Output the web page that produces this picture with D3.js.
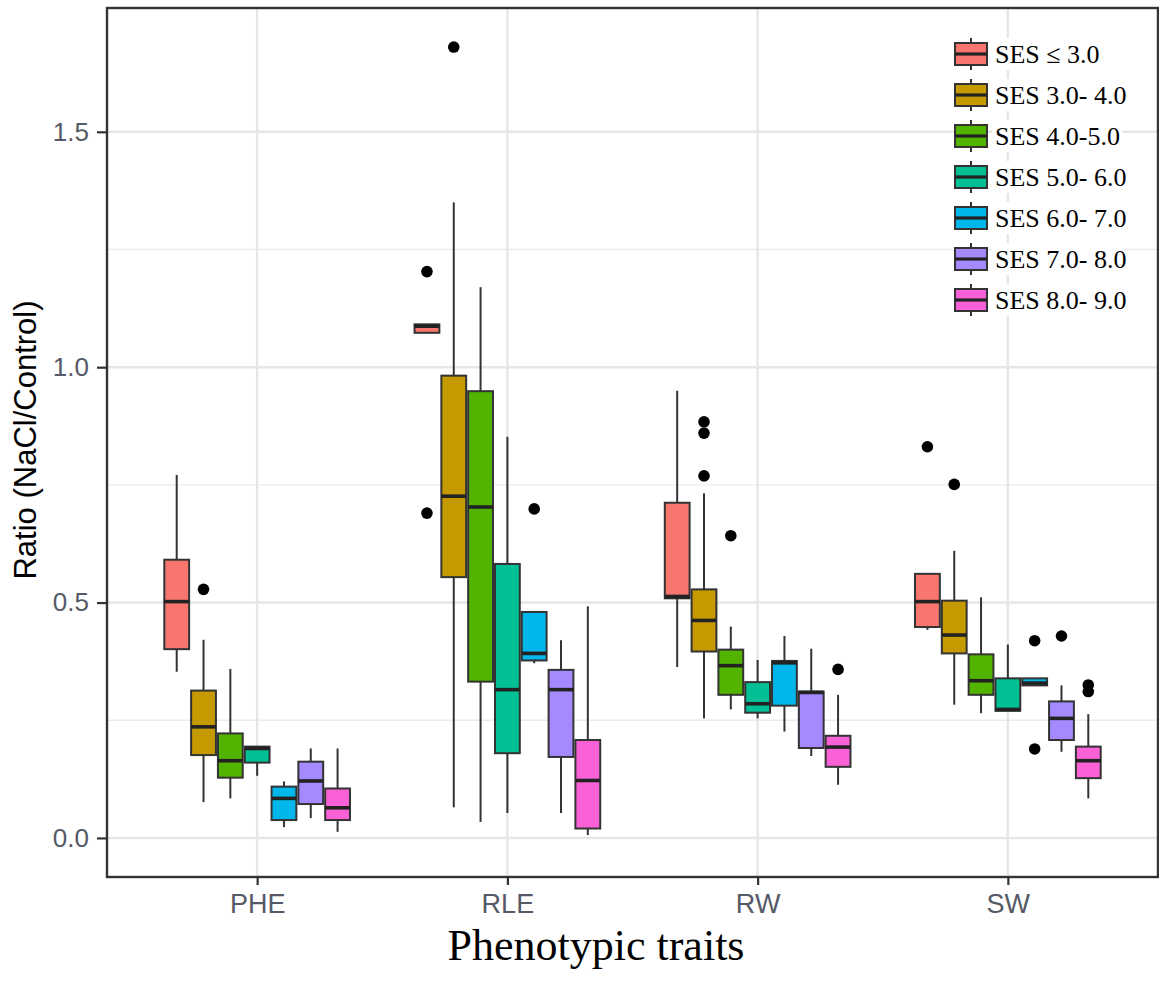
<!DOCTYPE html>
<html>
<head>
<meta charset="utf-8">
<script src="https://cdn.jsdelivr.net/npm/d3@7"></script>
<style>
  html, body { margin: 0; padding: 0; background: #fff; }
  svg { display: block; }
</style>
</head>
<body>
<svg id="chart" width="1159" height="995"></svg>
<script>
// Salt-stress ratio (NaCl/Control) per phenotypic trait, split by SES score class.
const traits = ["PHE", "RLE", "RW", "SW"];
const sesGroups = ["SES \u2264 3.0", "SES 3.0- 4.0", "SES 4.0-5.0", "SES 5.0- 6.0",
                   "SES 6.0- 7.0", "SES 7.0- 8.0", "SES 8.0- 9.0"];
const sesColors = ["#F8766D", "#C49A00", "#53B400", "#00C094", "#00B6EB", "#A58AFF", "#FB61D7"];

// Box statistics, one row per trait, one value per SES class.
const whiskerLow = [
  [0.353, 0.076, 0.084, 0.132, 0.023, 0.042, 0.013],
  [1.072, 0.065, 0.034, 0.053, 0.371, 0.053, 0.006],
  [0.363, 0.254, 0.273, 0.254, 0.226, 0.174, 0.113],
  [0.442, 0.283, 0.265, 0.270, 0.324, 0.183, 0.084]
];
const lowerQuartile = [
  [0.401, 0.176, 0.128, 0.160, 0.038, 0.072, 0.038],
  [1.073, 0.554, 0.332, 0.180, 0.377, 0.172, 0.020],
  [0.509, 0.396, 0.304, 0.266, 0.281, 0.191, 0.151],
  [0.448, 0.392, 0.304, 0.270, 0.324, 0.208, 0.127]
];
const medians = [
  [0.502, 0.236, 0.164, 0.190, 0.084, 0.121, 0.064],
  [1.087, 0.726, 0.703, 0.315, 0.392, 0.315, 0.122],
  [0.513, 0.462, 0.366, 0.285, 0.372, 0.309, 0.193],
  [0.502, 0.431, 0.334, 0.273, 0.329, 0.254, 0.164]
];
const upperQuartile = [
  [0.591, 0.313, 0.222, 0.194, 0.109, 0.162, 0.105],
  [1.091, 0.982, 0.949, 0.582, 0.480, 0.357, 0.208],
  [0.712, 0.528, 0.400, 0.331, 0.376, 0.311, 0.217],
  [0.561, 0.504, 0.390, 0.339, 0.339, 0.290, 0.194]
];
const whiskerHigh = [
  [0.771, 0.421, 0.359, 0.194, 0.120, 0.190, 0.190],
  [1.091, 1.350, 1.170, 0.852, 0.480, 0.420, 0.492],
  [0.950, 0.732, 0.449, 0.378, 0.429, 0.402, 0.304],
  [0.561, 0.610, 0.511, 0.411, 0.339, 0.324, 0.263]
];
// Outliers as [trait index, SES class index, value]
const outliers = [
  [0, 1, 0.528],
  [1, 0, 1.203], [1, 0, 0.690], [1, 1, 1.680], [1, 4, 0.699],
  [2, 1, 0.884], [2, 1, 0.860], [2, 1, 0.769], [2, 2, 0.642], [2, 6, 0.358],
  [3, 0, 0.831], [3, 1, 0.751], [3, 4, 0.419], [3, 4, 0.189], [3, 5, 0.429],
  [3, 6, 0.325], [3, 6, 0.311]
];
const yTicks = [0, 0.5, 1.0, 1.5];
const yMinorTicks = [0.25, 0.75, 1.25];

const svg = d3.select("#chart");
const panel = { left: 107, top: 8, right: 1158, bottom: 877 };

const y = d3.scaleLinear().domain([-0.083, 1.763]).range([panel.bottom, panel.top]);
const x = d3.scalePoint().domain(traits).range([panel.left, panel.right]).padding(0.6);
const step = x.step();
const dodge = d3.scaleBand().domain(d3.range(sesGroups.length))
  .range([-0.375 * step, 0.375 * step]).padding(0);
const bw = dodge.bandwidth();

// grid
const grid = svg.append("g");
grid.selectAll("line.minor").data(yMinorTicks).join("line")
  .attr("x1", panel.left).attr("x2", panel.right)
  .attr("y1", d => y(d)).attr("y2", d => y(d))
  .attr("stroke", "#EBEBEB").attr("stroke-width", 1.4);
grid.selectAll("line.majory").data(yTicks).join("line")
  .attr("x1", panel.left).attr("x2", panel.right)
  .attr("y1", d => y(d)).attr("y2", d => y(d))
  .attr("stroke", "#E6E6E6").attr("stroke-width", 2.4);
grid.selectAll("line.majorx").data(traits).join("line")
  .attr("x1", d => x(d)).attr("x2", d => x(d))
  .attr("y1", panel.top).attr("y2", panel.bottom)
  .attr("stroke", "#E6E6E6").attr("stroke-width", 2.4);

// boxes
const boxes = [];
traits.forEach((t, ti) => {
  sesGroups.forEach((g, gi) => {
    boxes.push({
      ti, gi, cx: x(t) + dodge(gi) + bw / 2,
      lo: whiskerLow[ti][gi], q1: lowerQuartile[ti][gi], med: medians[ti][gi],
      q3: upperQuartile[ti][gi], hi: whiskerHigh[ti][gi]
    });
  });
});

const bg = svg.append("g").selectAll("g").data(boxes).join("g");
bg.append("line")
  .attr("x1", d => d.cx).attr("x2", d => d.cx)
  .attr("y1", d => y(d.hi)).attr("y2", d => y(d.q3))
  .attr("stroke", "#333").attr("stroke-width", 2);
bg.append("line")
  .attr("x1", d => d.cx).attr("x2", d => d.cx)
  .attr("y1", d => y(d.q1)).attr("y2", d => y(d.lo))
  .attr("stroke", "#333").attr("stroke-width", 2);
bg.append("rect")
  .attr("x", d => d.cx - bw / 2 + 1).attr("width", bw - 2)
  .attr("y", d => y(d.q3)).attr("height", d => Math.max(0.5, y(d.q1) - y(d.q3)))
  .attr("fill", d => sesColors[d.gi])
  .attr("stroke", "#333").attr("stroke-width", 2);
bg.append("line")
  .attr("x1", d => d.cx - bw / 2 + 1).attr("x2", d => d.cx + bw / 2 - 1)
  .attr("y1", d => y(d.med)).attr("y2", d => y(d.med))
  .attr("stroke", "#222").attr("stroke-width", 3.6);

// outliers
svg.append("g").selectAll("circle").data(outliers).join("circle")
  .attr("cx", d => x(traits[d[0]]) + dodge(d[1]) + bw / 2)
  .attr("cy", d => y(d[2]))
  .attr("r", 5.8)
  .attr("fill", "#000");

// panel border
svg.append("rect")
  .attr("x", panel.left).attr("y", panel.top)
  .attr("width", panel.right - panel.left).attr("height", panel.bottom - panel.top)
  .attr("fill", "none").attr("stroke", "#333").attr("stroke-width", 2.4);

// y axis
const yAxis = svg.append("g").attr("transform", `translate(${panel.left},0)`)
  .call(d3.axisLeft(y).tickValues(yTicks).tickFormat(d3.format(".1f")).tickSize(10).tickPadding(8));
yAxis.select(".domain").remove();
yAxis.selectAll(".tick line").attr("stroke", "#333").attr("stroke-width", 2.2);
yAxis.selectAll(".tick text").attr("fill", "#555a66")
  .style("font-family", "Liberation Sans, Arial, sans-serif").style("font-size", "26px");

// x axis
const xAxis = svg.append("g").attr("transform", `translate(0,${panel.bottom})`)
  .call(d3.axisBottom(x).tickSize(8).tickPadding(9));
xAxis.select(".domain").remove();
xAxis.selectAll(".tick line").attr("stroke", "#333").attr("stroke-width", 2.2);
xAxis.selectAll(".tick text").attr("fill", "#555a66")
  .style("font-family", "Liberation Sans, Arial, sans-serif").style("font-size", "27px");

// axis titles
svg.append("text")
  .attr("x", 596).attr("y", 960)
  .attr("text-anchor", "middle")
  .style("font-family", "Liberation Serif, Times New Roman, serif")
  .style("font-size", "44px").attr("fill", "#000")
  .text("Phenotypic traits");
svg.append("text")
  .attr("transform", "translate(36,440) rotate(-90)")
  .attr("text-anchor", "middle")
  .style("font-family", "Liberation Sans, Arial, sans-serif")
  .style("font-size", "31px").attr("fill", "#000")
  .text("Ratio (NaCl/Control)");

// legend
const legend = svg.append("g").attr("transform", "translate(955,54)");
const rowH = 41;
const rows = legend.selectAll("g").data(sesGroups).join("g")
  .attr("transform", (d, i) => `translate(0,${i * rowH})`);
rows.append("rect")
  .attr("x", 37).attr("y", -16).attr("width", 130).attr("height", 32)
  .attr("fill", "#fff");
rows.append("line")
  .attr("x1", 16).attr("x2", 16).attr("y1", -16).attr("y2", 16)
  .attr("stroke", "#333").attr("stroke-width", 2);
rows.append("rect")
  .attr("x", 0).attr("y", -11).attr("width", 32).attr("height", 22)
  .attr("fill", (d, i) => sesColors[i])
  .attr("stroke", "#333").attr("stroke-width", 2);
rows.append("line")
  .attr("x1", 0).attr("x2", 32).attr("y1", 0).attr("y2", 0)
  .attr("stroke", "#222").attr("stroke-width", 3.2);
rows.append("text")
  .attr("x", 40).attr("y", 9)
  .style("font-family", "Liberation Serif, Times New Roman, serif")
  .style("font-size", "26px").attr("fill", "#000")
  .text(d => d);
</script>
</body>
</html>
